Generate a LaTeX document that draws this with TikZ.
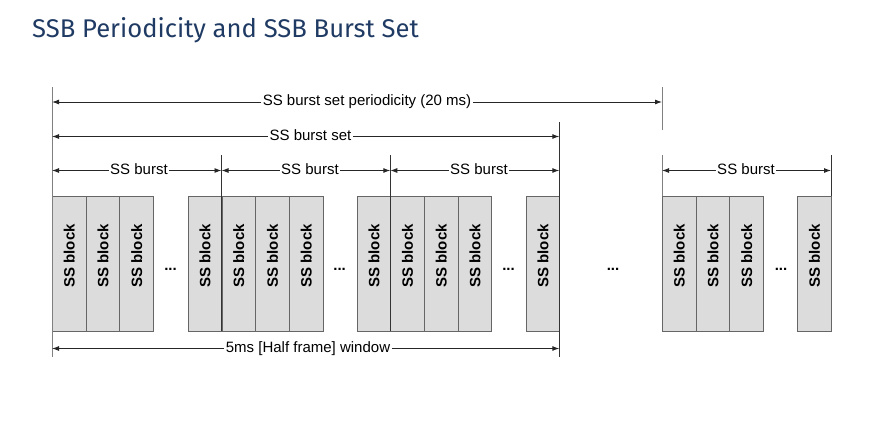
\documentclass[tikz,border=0pt]{standalone}
\usepackage{fontspec}
\setmainfont{Liberation Sans}
\newfontfamily\titlefont{Fira Sans}
\usepackage{tikz}
\usetikzlibrary{arrows.meta}
\definecolor{titleblue}{HTML}{1F3A63}
\definecolor{blockgray}{HTML}{DCDCDC}
\tikzstyle{line} = [draw, line width=0.9pt, black!85, -{Latex[length=7pt,width=5pt]}]
\tikzstyle{tick} = [draw, line width=0.9pt, black!80]
\tikzstyle{lbl} = [font=\fontsize{15}{18}\selectfont, inner xsep=1.5pt, inner ysep=0pt, text height=0.72em, text depth=0pt]
\tikzstyle{ssblock} = [draw=black!60, fill=blockgray, line width=0.9pt, minimum width=33.7pt, minimum height=135pt, inner sep=0pt, anchor=north west]
\tikzstyle{blktext} = [font=\bfseries\fontsize{15}{18}\selectfont, rotate=90, inner sep=0pt]
\tikzstyle{dots} = [font=\bfseries\fontsize{15}{18}\selectfont, anchor=base, inner sep=0pt]

\begin{document}
\begin{tikzpicture}[x=1pt, y=-1pt]
        \useasboundingbox (0,0) rectangle (896,421);
        \node[anchor=base west, inner sep=0pt, text=titleblue, font=\titlefont\fontsize{25.6}{30}\selectfont] (title) at (32,37) {SSB Periodicity and SSB Burst Set};
        % the SS blocks
        \foreach \x [count=\i] in {52,85.7,119.4,187.8,221.5,255.2,288.9,356.6,390.3,424,457.7,525.6,662,695.7,729.4,797.3} {
            \node[ssblock] (blk\i) at (\x,196) {};
            \node[blktext] (blktext\i) at ([yshift=8pt]blk\i.center) {SS block};
        }
        \foreach \x [count=\i] in {170.5,339.6,508.5,613,781}
            \node[dots] (dots\i) at (\x,270.5) {...};
        % ticks
        \draw[tick, black!50] (52,87) -- (52,357);
        \draw[tick, black!50] (662,87) -- (662,130);
        \draw[tick] (559.3,122) -- (559.3,357);
        \draw[tick] (221.5,155) -- (221.5,331);
        \draw[tick] (390.3,155) -- (390.3,331);
        \draw[tick, black!50] (662,155) -- (662,196);
        \draw[tick] (831,155) -- (831,196);
        % periodicity
        \node[lbl] (period) at (367,102) {SS burst set periodicity (20 ms)};
        \coordinate (periodL) at (52,102);
        \coordinate (periodR) at (662,102);
        \path[line] (period) -- (periodL);
        \path[line] (period) -- (periodR);
        % burst set
        \node[lbl] (bset) at (310.5,136.5) {SS burst set};
        \coordinate (bsetL) at (52,136.5);
        \coordinate (bsetR) at (559.3,136.5);
        \path[line] (bset) -- (bsetL);
        \path[line] (bset) -- (bsetR);
        % bursts
        \foreach \l/\c/\r [count=\i] in {52/139/221.5, 221.5/310/390.3, 390.3/479/559.3, 662/746/831} {
            \node[lbl] (burst\i) at (\c,170.5) {SS burst};
            \coordinate (burstL\i) at (\l,170.5);
            \coordinate (burstR\i) at (\r,170.5);
            \path[line] (burst\i) -- (burstL\i);
            \path[line] (burst\i) -- (burstR\i);
        }
        % half frame window
        \node[lbl] (window) at (308,348.5) {5ms [Half frame] window};
        \coordinate (windowL) at (52,348.5);
        \coordinate (windowR) at (559.3,348.5);
        \path[line] (window) -- (windowL);
        \path[line] (window) -- (windowR);
    \end{tikzpicture}
\end{document}
